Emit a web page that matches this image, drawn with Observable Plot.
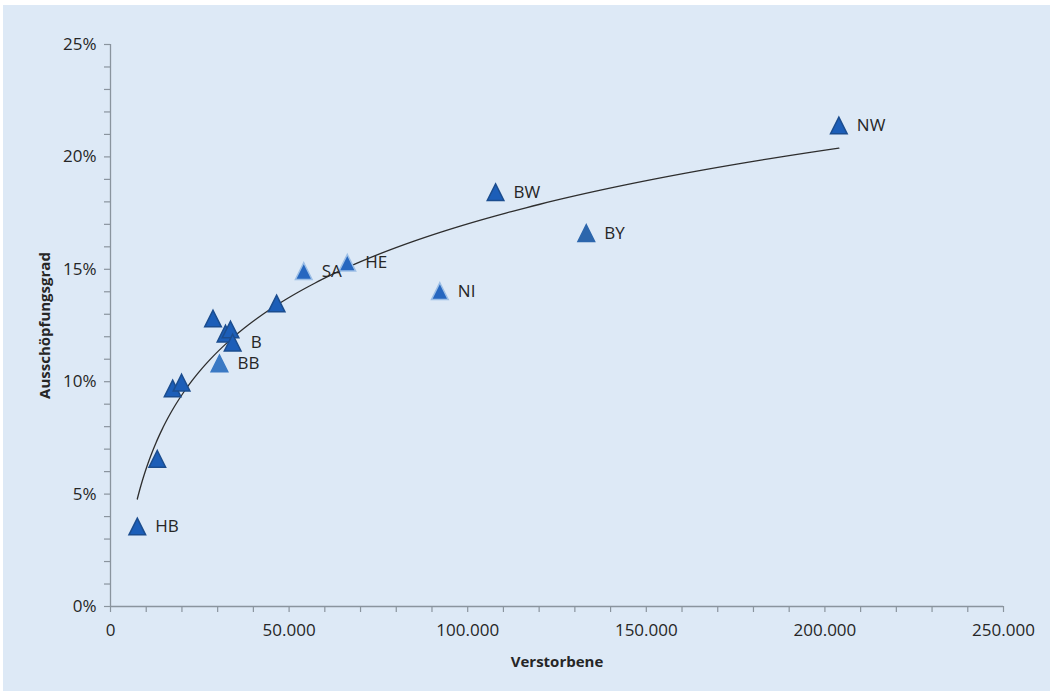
<!DOCTYPE html>
<html>
<head>
<meta charset="utf-8">
<script src="https://cdn.jsdelivr.net/npm/d3@7"></script>
<script src="https://cdn.jsdelivr.net/npm/@observablehq/plot@0.6"></script>
<style>
  html, body { margin: 0; padding: 0; background: #ffffff; }
  #panel { position: absolute; left: 3px; top: 5px; width: 1047px; height: 686px; background: #dde9f6; }
  svg { background: transparent !important; }
</style>
</head>
<body>
<div id="panel"></div>
<script>
// Verstorbene (deaths) per state and Ausschöpfungsgrad (share, %)
const states = ["HB", "", "", "", "", "BB", "", "", "B", "", "SA", "HE", "NI", "BW", "BY", "NW"];
const deaths = [7500, 13100, 17400, 19900, 28700, 30500, 32200, 33600, 34200, 46500, 54100, 66300, 92200, 107800, 133200, 203900];
const share = [3.56, 6.57, 9.70, 9.96, 12.81, 10.81, 12.14, 12.32, 11.74, 13.48, 14.92, 15.29, 14.03, 18.43, 16.61, 21.40];
const fills = ["#1c5eb8", "#1c5eb8", "#1c5eb8", "#1c5eb8", "#1c5eb8", "#3a79c4", "#1c5eb8", "#1c5eb8", "#1c5eb8", "#1c5eb8", "#2667c0", "#2667c0", "#2667c0", "#1c5eb8", "#2c66ac", "#1c5eb8"];
const strokes = ["#1b4d8f", "#1b4d8f", "#1b4d8f", "#1b4d8f", "#1b4d8f", "#3a79c4", "#1b4d8f", "#1b4d8f", "#1b4d8f", "#1b4d8f", "#9dbfe6", "#9dbfe6", "#9dbfe6", "#1b4d8f", "#2c66ac", "#1b4d8f"];
const xTicks = [0, 50000, 100000, 150000, 200000, 250000];
const yTicks = [0, 5, 10, 15, 20, 25];
const xMinor = d3.range(0, 250001, 10000);
const yMinor = d3.range(0, 26, 1);

const data = states.map((s, i) => ({state: s, deaths: deaths[i], share: share[i], fill: fills[i], stroke: strokes[i]}));

// logarithmic trend line fitted (least squares) to the data: y = a*ln(x) + b
const L = deaths.map(d => Math.log(d));
const mL = d3.mean(L), mY = d3.mean(share);
const a = d3.sum(L.map((l, i) => (l - mL) * (share[i] - mY))) / d3.sum(L.map(l => (l - mL) ** 2));
const b = mY - a * mL;
const [xmin, xmax] = d3.extent(deaths);
const trend = d3.range(0, 201).map(k => {
  const x = Math.exp(Math.log(xmin) + (Math.log(xmax) - Math.log(xmin)) * k / 200);
  return {x, y: a * Math.log(x) + b};
});

const tri = {
  draw(context, size) {
    const r = Math.sqrt(size / Math.PI) * 1.3;
    context.moveTo(0, -r);
    context.lineTo(r, r);
    context.lineTo(-r, r);
    context.closePath();
  }
};

const fmtX = d => d === 0 ? "0" : d3.format(",")(d).replace(/,/g, ".");
const font = "'Open Sans', sans-serif";

const chart = Plot.plot({
  width: 1047,
  height: 686,
  marginLeft: 107,
  marginTop: 39,
  marginRight: 47,
  marginBottom: 85,
  style: {fontFamily: font, fontSize: "17px", color: "#262626", background: "transparent"},
  x: {type: "linear", domain: [0, 250000], label: null},
  y: {type: "linear", domain: [0, 25], label: null},
  marks: [
    // axis lines
    Plot.ruleY([0], {stroke: "#8a949e", strokeWidth: 1.3}),
    Plot.ruleX([0], {stroke: "#8a949e", strokeWidth: 1.3}),
    // minor ticks
    Plot.axisX(xMinor, {tickSize: 6, tickFormat: () => "", stroke: "#8a949e", strokeWidth: 1.2}),
    Plot.axisY(yMinor, {tickSize: 6, tickFormat: () => "", stroke: "#8a949e", strokeWidth: 1.2}),
    Plot.axisX(xTicks, {tickSize: 0, tickPadding: 17, tickFormat: fmtX, fontSize: 17, fill: "#262626"}),
    Plot.axisY(yTicks, {tickSize: 0, tickPadding: 14, tickFormat: d => d + "%", fontSize: 17, fill: "#262626"}),
    // trend line
    Plot.line(trend, {x: "x", y: "y", stroke: "#2e2e2e", strokeWidth: 1.3}),
    // points
    Plot.dot(data, {x: "deaths", y: "share", symbol: tri, r: 6.4, fill: "fill", stroke: "stroke", strokeWidth: 1.5}),
    Plot.text(data, {x: "deaths", y: "share", text: "state", textAnchor: "start", dx: 18, fontSize: 17, fill: "#262626"}),
    // axis titles
    Plot.text(["Verstorbene"], {frameAnchor: "bottom", dy: 60, textAnchor: "middle", text: d => d, fontWeight: "bold", fontSize: 15, fill: "#262626"}),
    Plot.text(["Ausschöpfungsgrad"], {frameAnchor: "left", dx: -65, rotate: -90, textAnchor: "middle", text: d => d, fontWeight: "bold", fontSize: 15, fill: "#262626"})
  ]
});
chart.style.position = "absolute";
chart.style.left = "3px";
chart.style.top = "5px";
document.body.appendChild(chart);
</script>
</body>
</html>
